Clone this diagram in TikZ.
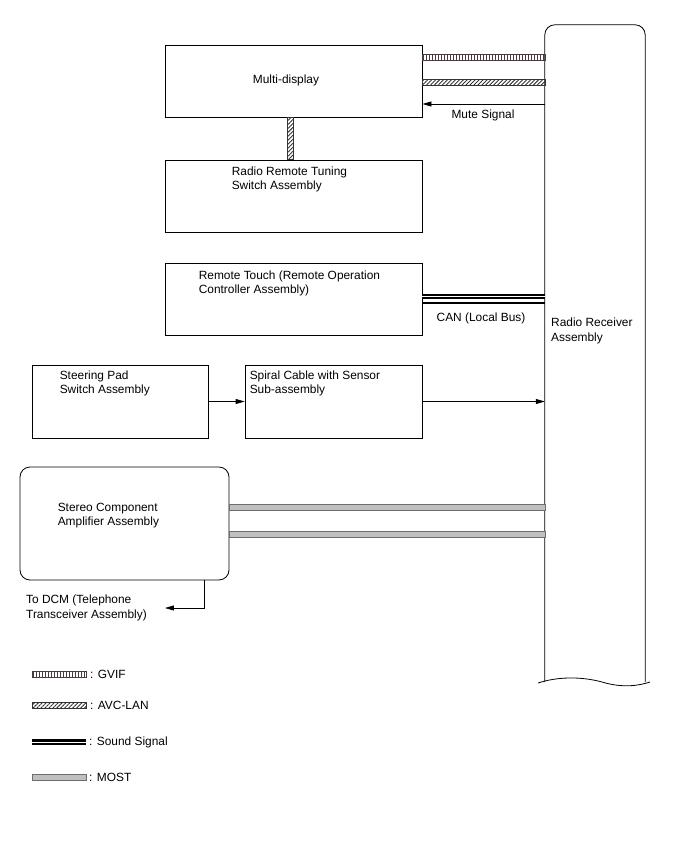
\documentclass[tikz,border=0pt]{standalone}
\usepackage{fontspec}
\setmainfont{Liberation Sans}
\usetikzlibrary{arrows.meta,positioning,calc,patterns.meta}
\definecolor{gvifbrown}{RGB}{72,60,62}
\definecolor{mostgray}{RGB}{192,192,192}
\definecolor{mostedge}{RGB}{110,110,110}

\begin{document}
\begin{tikzpicture}[x=1pt,y=-1pt,
  blk/.style={draw,line width=0.8pt,minimum width=257pt,minimum height=72pt,inner sep=0pt},
  txt/.style={align=left,inner sep=0pt,anchor=north west,font=\fontsize{11.9}{14.5}\selectfont},
  sig/.style={-{Triangle[length=9pt,width=5pt]},line width=0.8pt},
  gvif/.style={draw=gvifbrown,line width=0.5pt,pattern={Lines[angle=90,distance=3pt,line width=1pt]},pattern color=gvifbrown},
  avc/.style={draw=black!80,line width=0.5pt,pattern={Lines[angle=45,distance=2.8pt,line width=0.9pt]},pattern color=black!80},
  most/.style={draw=mostedge,line width=0.6pt,fill=mostgray},
  snd/.style={draw,line width=2.2pt,double=white,double distance=0.9pt}]
  \useasboundingbox (0,0) rectangle (688,852);

  % units
  \node[blk] (md) at (293.5,81) {};
  \node[txt,anchor=center] (mdtxt) at (286,80) {Multi-display};
  \node[blk] (rrt) at (293.5,196) {};
  \node[txt] (rrttxt) at ([shift={(67,7)}]rrt.north west) {Radio Remote Tuning\\Switch Assembly};
  \node[blk] (rt) at (293.5,299) {};
  \node[txt] (rttxt) at ([shift={(34,8)}]rt.north west) {Remote Touch (Remote Operation\\Controller Assembly)};
  \node[blk,minimum width=176pt,minimum height=73pt] (sp) at (120,401.5) {};
  \node[txt] (sptxt) at ([shift={(28,6)}]sp.north west) {Steering Pad\\Switch Assembly};
  \node[blk,minimum width=177pt,minimum height=73pt] (sc) at (333.5,401.5) {};
  \node[txt] (sctxt) at ([shift={(5,6)}]sc.north west) {Spiral Cable with Sensor\\Sub-assembly};
  \node[blk,minimum width=209pt,minimum height=113pt,rounded corners=10pt] (amp) at (124.5,523.5) {};
  \node[txt] (amptxt) at ([shift={(38,36)}]amp.north west) {Stereo Component\\Amplifier Assembly};

  % receiver
  \node[minimum width=100pt,minimum height=657pt,inner sep=0pt] (rcv) at (595,353.5) {};
  \draw[line width=0.8pt,rounded corners=10pt] (rcv.south west) -- (rcv.north west) -- (rcv.north east) -- (rcv.south east);
  \draw[line width=0.8pt] (538,683) .. controls (556,677) and (580,676) .. (602,682) .. controls (622,688) and (638,686) .. (650,682);
  \node[txt] (rcvtxt) at (551,318) {Radio Receiver\\Assembly};

  % lines
  \path[gvif] (md.east |- 0,54) rectangle (rcv.west |- 0,60);
  \path[avc] (md.east |- 0,79) rectangle (rcv.west |- 0,85);
  \path[avc] (287,0 |- md.south) rectangle (293,0 |- rrt.north);
  \draw[sig] (rcv.west |- 0,104) -- (md.east |- 0,104);
  \node[txt,anchor=center] (mute) at (483,115) {Mute Signal};
  \draw[snd] (rt.east |- 0,296.5) -- (rcv.west |- 0,296.5);
  \draw[line width=1.7pt] (rt.east |- 0,303) -- (rcv.west |- 0,303);
  \node[txt,anchor=center] (can) at (481,318) {CAN (Local Bus)};
  \draw[sig] (sp) -- (sc);
  \draw[sig] (sc.east) -- (sc.east -| rcv.west);
  \path[most] (amp.east |- 0,504) rectangle (rcv.west |- 0,510);
  \path[most] (amp.east |- 0,531) rectangle (rcv.west |- 0,537);
  \node[txt] (dcm) at (26,595) {To DCM (Telephone\\Transceiver Assembly)};
  \draw[sig] (204,0 |- amp.south) |- ([xshift=18pt]dcm.east);

  % legend
  \path[gvif] (32,671) rectangle (86,677);
  \node[txt,anchor=west] (lgvif) at (90,674) {: GVIF};
  \path[avc] (32,702) rectangle (86,708);
  \node[txt,anchor=west] (lavc) at (90,705) {: AVC-LAN};
  \draw[snd] (32,742) -- (86,742);
  \node[txt,anchor=west] (lsnd) at (89,742) {: Sound Signal};
  \path[most] (32,774) rectangle (86,780);
  \node[txt,anchor=west] (lmost) at (89,777) {: MOST};
\end{tikzpicture}
\end{document}
